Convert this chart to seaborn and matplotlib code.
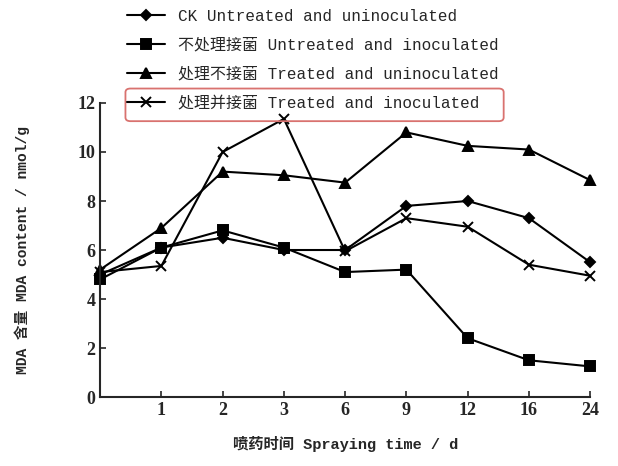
import matplotlib
matplotlib.use("Agg")
import matplotlib.pyplot as plt
import seaborn as sns
from matplotlib.patches import FancyBboxPatch

times = ["0", "1", "2", "3", "6", "9", "12", "16", "24"]
tick_labels = ["", "1", "2", "3", "6", "9", "12", "16", "24"]

ck = [5.0, 6.1, 6.5, 6.0, 6.0, 7.8, 8.0, 7.3, 5.5]
untreated_inoc = [4.8, 6.1, 6.8, 6.1, 5.1, 5.2, 2.4, 1.5, 1.25]
treated_uninoc = [5.2, 6.9, 9.2, 9.05, 8.75, 10.8, 10.25, 10.1, 8.85]
treated_inoc = [5.1, 5.35, 10.0, 11.35, 5.95, 7.3, 6.95, 5.4, 4.95]

labels = [
    "CK Untreated and uninoculated",
    "不处理接菌 Untreated and inoculated",
    "处理不接菌 Treated and uninoculated",
    "处理并接菌 Treated and inoculated",
]
series = [ck, untreated_inoc, treated_uninoc, treated_inoc]
markers = ["D", "s", "^", "x"]
msizes = [5, 7, 7, 7]

sns.set_style("ticks")
mono = ["Liberation Mono", "Noto Sans CJK SC"]
serif = ["Liberation Serif", "Noto Sans CJK SC"]
plt.rcParams["font.family"] = serif

fig = plt.figure(figsize=(6.18, 4.66), dpi=100)
ax = fig.add_axes([0.162, 0.148, 0.793, 0.631])

for vals, lab, m, ms in zip(series, labels, markers, msizes):
    sns.lineplot(x=times, y=vals, marker=m, markersize=ms, color="black",
                 linewidth=1.5, markeredgewidth=1.4, markeredgecolor="black",
                 label=lab, ax=ax, clip_on=False)

ax.set_xlim(0, 8)
ax.set_ylim(0, 12)
ax.set_xticks(range(len(times)))
ax.set_xticklabels(tick_labels)
ax.set_yticks(range(0, 13, 2))
ax.tick_params(direction="in", length=4, width=1.2, labelsize=13)
for t in ax.get_xticklabels() + ax.get_yticklabels():
    t.set_fontweight("bold")
sns.despine(ax=ax)
for s in ["left", "bottom"]:
    ax.spines[s].set_linewidth(1.5)

ax.set_xlabel("喷药时间 Spraying time / d", family=mono, fontsize=11,
              fontweight="bold", labelpad=12)
ax.set_ylabel("MDA 含量 MDA content / nmol/g", family=mono, fontsize=10.5,
              fontweight="bold", labelpad=34)

ax.get_legend().remove()
handles, labs = ax.get_legend_handles_labels()
fig.legend(handles, labs, loc="upper left", bbox_to_anchor=(0.182, 1.012),
           frameon=False, handlelength=2.4, handletextpad=0.8,
           labelspacing=0.88, prop={"family": mono, "size": 11.5})

box = FancyBboxPatch((0.203, 0.74), 0.612, 0.07, transform=fig.transFigure,
                     boxstyle="round,pad=0,rounding_size=0.008",
                     fill=False, edgecolor="#d9726f", linewidth=1.3)
fig.patches.append(box)

fig.savefig("out.png", dpi=100)
